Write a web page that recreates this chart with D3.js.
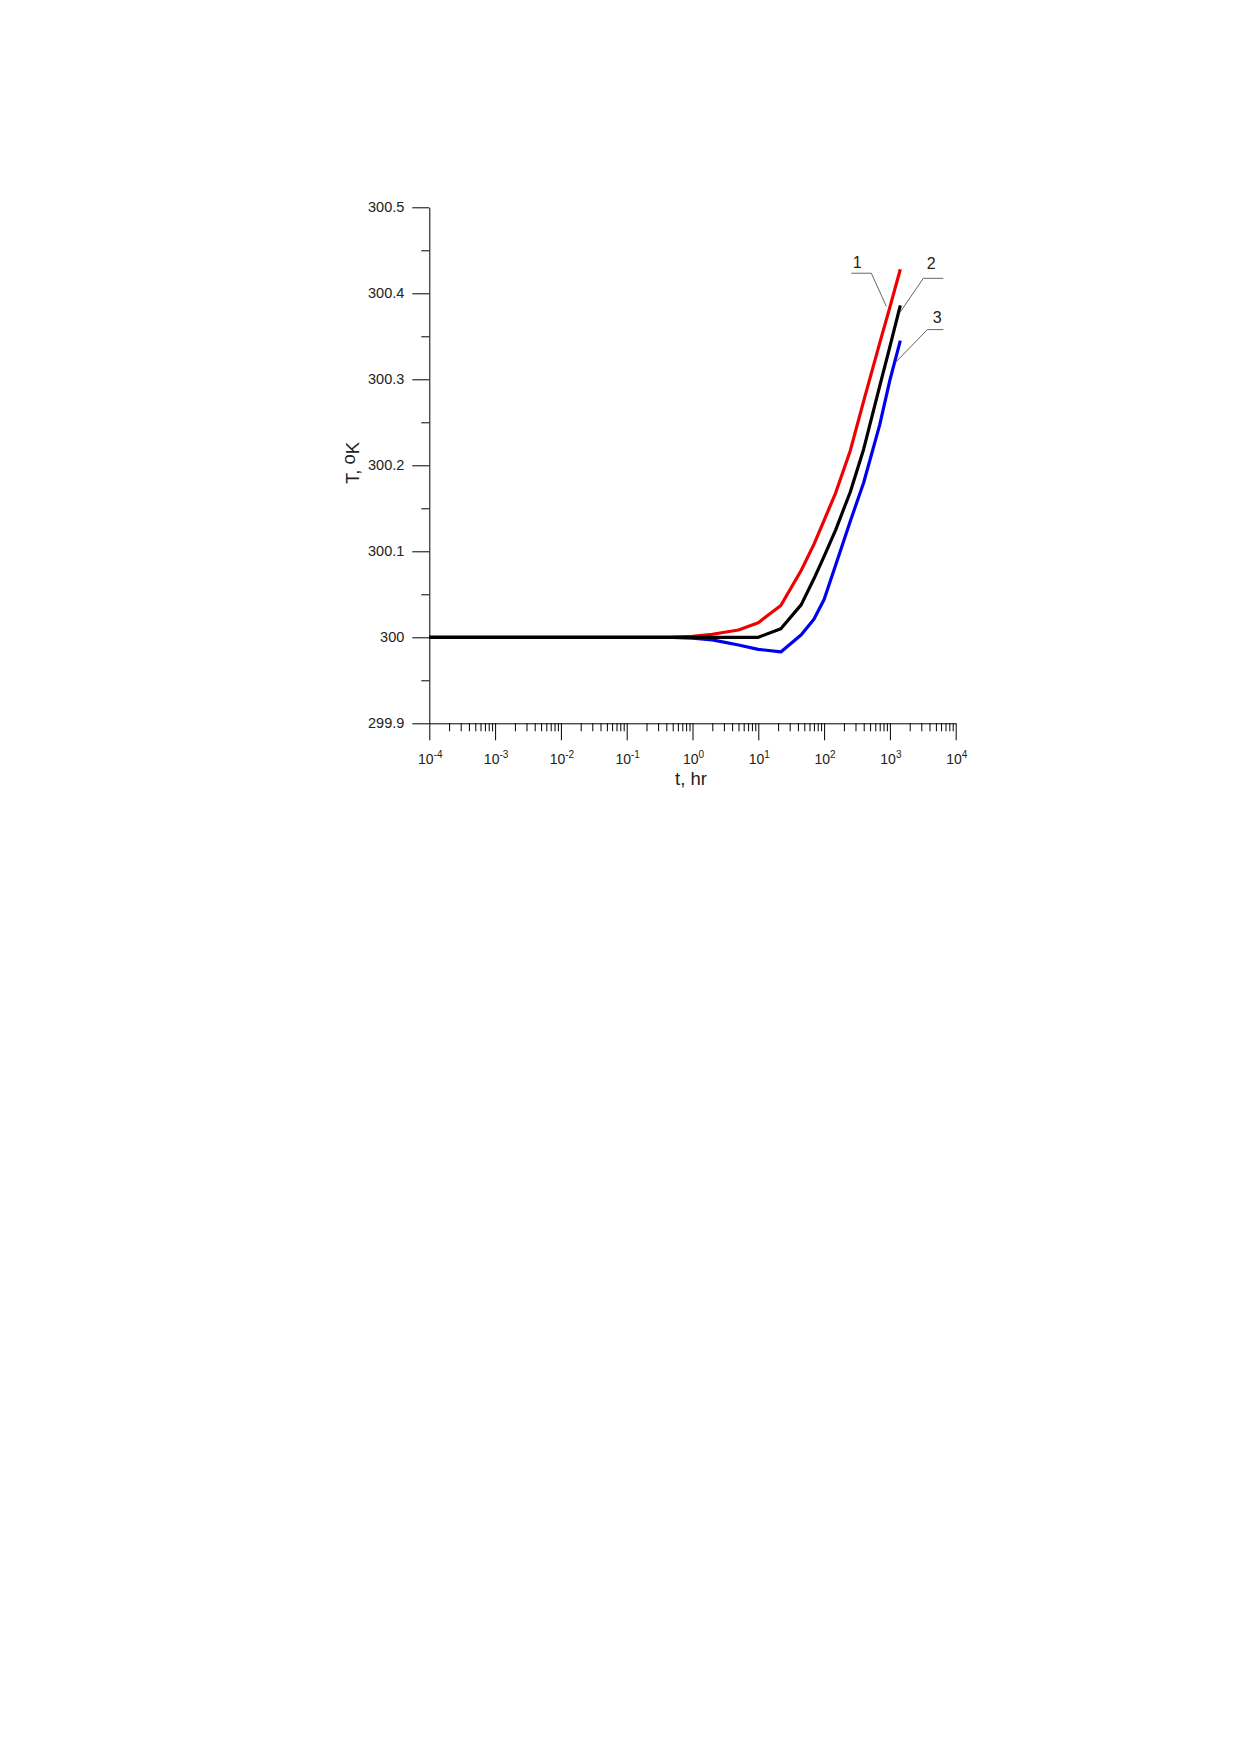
<!DOCTYPE html>
<html>
<head>
<meta charset="utf-8">
<script src="https://cdn.jsdelivr.net/npm/d3@7/dist/d3.min.js"></script>
<style>
  body { margin: 0; background: #fff; }
  text { font-family: "Liberation Sans", Arial, sans-serif; fill: #222; }
</style>
</head>
<body>
<script>
// time, hours
const tHours = [1e-4, 1e-3, 1e-2, 0.1, 0.5, 1, 2, 5, 10, 22, 45, 70, 100, 150, 250, 400, 700, 1000, 1440];
// temperature, K
const curve1 = [300, 300, 300, 300, 300.0003, 300.0012, 300.0035, 300.0085, 300.017, 300.037, 300.078, 300.108, 300.136, 300.168, 300.217, 300.275, 300.342, 300.384, 300.428];
const curve2 = [300, 300, 300, 300, 300, 300, 300, 300, 300.0, 300.010, 300.038, 300.068, 300.094, 300.125, 300.169, 300.219, 300.292, 300.338, 300.386];
const curve3 = [300, 300, 300, 300, 299.9998, 299.999, 299.997, 299.991, 299.986, 299.983, 300.003, 300.021, 300.044, 300.084, 300.135, 300.180, 300.247, 300.299, 300.345];

const seriesNames = ["1", "2", "3"];
const seriesColors = ["#f00000", "#000000", "#0000f0"];

const yTicks = [299.9, 300, 300.1, 300.2, 300.3, 300.4, 300.5];
const yTickLabels = ["299.9", "300", "300.1", "300.2", "300.3", "300.4", "300.5"];
const xExponents = [-4, -3, -2, -1, 0, 1, 2, 3, 4];

const width = 1239;
const height = 1752;

const svg = d3.select("body").append("svg")
  .attr("width", width)
  .attr("height", height);

const x = d3.scaleLog().domain([1e-4, 1e4]).range([429.3, 955.7]);
const y = d3.scaleLinear().domain([299.9, 300.5]).range([723.3, 207.3]);

// y axis
const yMinor = d3.range(299.95, 300.5, 0.1);
svg.append("g")
  .attr("transform", `translate(${x.range()[0]},0)`)
  .call(d3.axisLeft(y).tickValues(yMinor).tickSize(8).tickSizeOuter(0).tickFormat(""))
  .call(g => g.select(".domain").remove());

svg.append("g")
  .attr("class", "y-axis")
  .attr("transform", `translate(${x.range()[0]},0)`)
  .call(d3.axisLeft(y).tickValues(yTicks).tickSize(17).tickSizeOuter(0).tickPadding(8)
    .tickFormat((d, i) => yTickLabels[i]))
  .call(g => g.selectAll("text").style("font-size", "14.5px").style("font-family", null).attr("fill", "#222"));

// x axis
const xMinor = [];
xExponents.slice(0, -1).forEach(e => {
  for (let k = 2; k <= 9; k++) xMinor.push(k * Math.pow(10, e));
});
svg.append("g")
  .attr("transform", `translate(0,${y.range()[0]})`)
  .call(d3.axisBottom(x).tickValues(xMinor).tickSize(8).tickSizeOuter(0).tickFormat(""))
  .call(g => g.select(".domain").remove());

svg.append("g")
  .attr("transform", `translate(0,${y.range()[0]})`)
  .call(d3.axisBottom(x).tickValues(xExponents.map(e => Math.pow(10, e)))
    .tickSize(17).tickSizeOuter(0).tickFormat(""));

const xLabels = svg.append("g");
xExponents.forEach(e => {
  const t = xLabels.append("text")
    .attr("x", x(Math.pow(10, e)) + 1)
    .attr("y", y.range()[0] + 41)
    .attr("text-anchor", "middle")
    .style("font-size", "14px");
  t.append("tspan").text("10");
  t.append("tspan").attr("dy", -6).style("font-size", "10px").text(String(e));
});

// axis titles
svg.append("text")
  .attr("x", 691)
  .attr("y", 785)
  .attr("text-anchor", "middle")
  .style("font-size", "18.5px")
  .text("t, hr");

const yTitle = svg.append("text")
  .attr("transform", "translate(359,463) rotate(-90)")
  .attr("text-anchor", "middle")
  .style("font-size", "18.5px");
yTitle.append("tspan").text("T, ");
yTitle.append("tspan").attr("dy", -4).text("o");
yTitle.append("tspan").attr("dy", 4).text("K");

// curves
const line = d3.line()
  .x(d => x(d[0]))
  .y(d => y(d[1]));

const curves = [curve1, curve2, curve3].map((vals, i) => ({
  name: seriesNames[i],
  color: seriesColors[i],
  points: tHours.map((t, j) => [t, vals[j]])
}));

// draw red, blue, then black on top
[0, 2, 1].forEach(i => {
  svg.append("path")
    .datum(curves[i].points)
    .attr("fill", "none")
    .attr("stroke", curves[i].color)
    .attr("stroke-width", 3.2)
    .attr("stroke-linejoin", "round")
    .attr("d", line);
});

// curve labels with leader lines, placed relative to each curve end
const leaders = [
  {tip: [-14, 37], elbow: [-29, 4], end: [-49, 4], text: [-43, -1]},
  {tip: [-1, 8], elbow: [23, -27], end: [43, -27], text: [31, -36]},
  {tip: [-5, 22], elbow: [27, -11], end: [43, -11], text: [37, -18]}
];

curves.forEach((c, i) => {
  const last = c.points[c.points.length - 1];
  const ex = x(last[0]), ey = y(last[1]);
  const L = leaders[i];
  svg.append("polyline")
    .attr("points", [L.tip, L.elbow, L.end].map(p => `${ex + p[0]},${ey + p[1]}`).join(" "))
    .attr("fill", "none")
    .attr("stroke", "#555")
    .attr("stroke-width", 0.9);
  svg.append("text")
    .attr("x", ex + L.text[0])
    .attr("y", ey + L.text[1])
    .attr("text-anchor", "middle")
    .style("font-size", "16px")
    .text(c.name);
});
</script>
</body>
</html>
